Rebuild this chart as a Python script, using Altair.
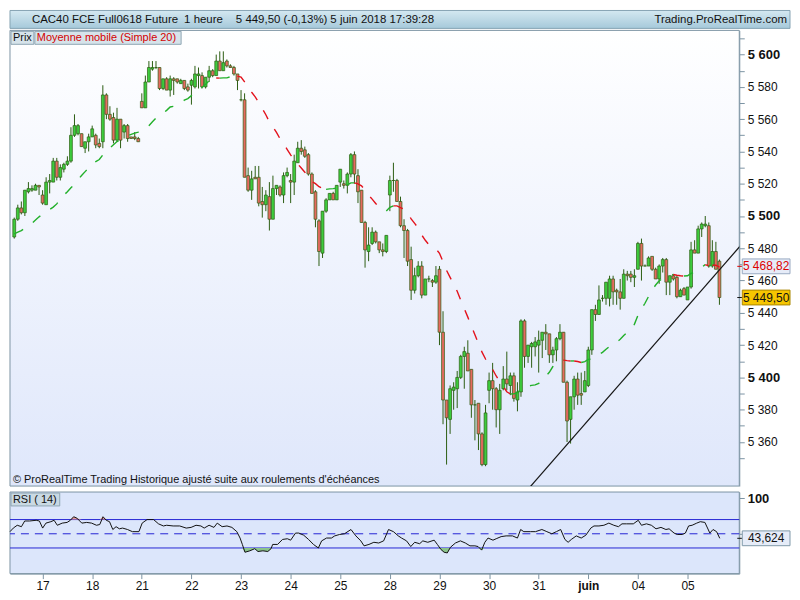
import altair as alt
import pandas as pd

# hourly candles, bar 0 = first visible hour (16 May)
opens = [
    5487, 5498, 5505, 5502, 5515, 5516, 5516, 5519, 5513, 5507,
    5521, 5521, 5534, 5524, 5529, 5532, 5534, 5550, 5551, 5551,
    5542, 5546, 5549, 5550, 5545, 5546, 5575, 5563, 5561, 5547,
    5560, 5552, 5556, 5549, 5549, 5548, 5571, 5567, 5583, 5591,
    5592, 5592, 5579, 5585, 5578, 5585, 5585, 5582, 5584, 5580,
    5581, 5580, 5587, 5587, 5580, 5586, 5590, 5587, 5596, 5590,
    5596, 5593, 5592, 5588, 5572, 5572, 5525, 5516, 5524, 5524,
    5509, 5507, 5512, 5498, 5517, 5518, 5513, 5525, 5522, 5521,
    5533, 5542, 5541, 5538, 5526, 5515, 5497, 5477, 5503, 5510,
    5514, 5510, 5521, 5520, 5519, 5526, 5538, 5525, 5516, 5496,
    5478, 5483, 5490, 5484, 5479, 5478, 5513, 5522, 5522, 5509,
    5494, 5491, 5473, 5454, 5463, 5469, 5451, 5461, 5460, 5459,
    5467, 5428, 5386, 5374, 5392, 5393, 5400, 5413, 5415, 5405,
    5383, 5384, 5365, 5346, 5392, 5398, 5393, 5380, 5393, 5399,
    5395, 5401, 5386, 5391, 5435, 5413, 5419, 5419, 5420, 5423,
    5428, 5427, 5414, 5417, 5424, 5428, 5397, 5374, 5388, 5399,
    5390, 5391, 5395, 5417, 5442, 5439, 5449, 5449, 5449, 5461,
    5454, 5453, 5449, 5464, 5464, 5462, 5467, 5483, 5469, 5469,
    5475, 5467, 5461, 5469, 5473, 5459, 5463, 5462, 5450, 5455,
    5448, 5456, 5479, 5477, 5492, 5494, 5494, 5469, 5478, 5472,
]
highs = [
    5499, 5507, 5509, 5516, 5521, 5519, 5520, 5519, 5516, 5524,
    5526, 5536, 5536, 5532, 5533, 5537, 5555, 5563, 5557, 5551,
    5546, 5551, 5556, 5551, 5548, 5581, 5576, 5568, 5564, 5567,
    5560, 5557, 5557, 5549, 5552, 5549, 5576, 5587, 5596, 5596,
    5596, 5592, 5585, 5586, 5587, 5586, 5585, 5585, 5584, 5582,
    5585, 5593, 5592, 5589, 5586, 5593, 5591, 5600, 5602, 5602,
    5597, 5594, 5593, 5588, 5578, 5576, 5530, 5528, 5531, 5531,
    5518, 5516, 5521, 5525, 5519, 5519, 5527, 5530, 5526, 5538,
    5546, 5547, 5543, 5539, 5527, 5516, 5498, 5503, 5511, 5514,
    5515, 5519, 5529, 5522, 5527, 5539, 5540, 5529, 5516, 5497,
    5493, 5493, 5491, 5484, 5483, 5488, 5525, 5533, 5523, 5512,
    5498, 5492, 5481, 5468, 5472, 5472, 5461, 5463, 5461, 5469,
    5469, 5441, 5386, 5395, 5397, 5404, 5414, 5419, 5423, 5405,
    5386, 5384, 5366, 5383, 5403, 5409, 5394, 5396, 5407, 5416,
    5403, 5403, 5397, 5436, 5436, 5420, 5422, 5425, 5429, 5428,
    5433, 5427, 5419, 5425, 5433, 5428, 5398, 5388, 5401, 5403,
    5403, 5404, 5419, 5442, 5445, 5457, 5451, 5459, 5463, 5463,
    5455, 5461, 5467, 5466, 5466, 5467, 5484, 5486, 5470, 5475,
    5475, 5468, 5470, 5474, 5474, 5463, 5464, 5463, 5455, 5456,
    5456, 5484, 5485, 5494, 5496, 5500, 5496, 5485, 5484, 5473,
]
lows = [
    5486, 5497, 5501, 5500, 5514, 5515, 5516, 5513, 5507, 5507,
    5514, 5521, 5522, 5522, 5527, 5531, 5533, 5549, 5550, 5543,
    5539, 5540, 5549, 5542, 5542, 5542, 5560, 5559, 5545, 5546,
    5542, 5548, 5546, 5548, 5547, 5546, 5567, 5567, 5583, 5590,
    5591, 5578, 5578, 5578, 5574, 5575, 5582, 5582, 5578, 5577,
    5569, 5579, 5579, 5579, 5579, 5583, 5586, 5587, 5590, 5590,
    5592, 5592, 5587, 5578, 5571, 5524, 5515, 5510, 5523, 5506,
    5499, 5503, 5491, 5498, 5513, 5512, 5508, 5524, 5508, 5513,
    5533, 5538, 5536, 5525, 5514, 5493, 5469, 5474, 5502, 5510,
    5510, 5510, 5518, 5517, 5514, 5524, 5520, 5508, 5496, 5468,
    5472, 5482, 5483, 5477, 5475, 5477, 5503, 5515, 5509, 5493,
    5474, 5469, 5448, 5452, 5462, 5449, 5451, 5459, 5456, 5458,
    5420, 5371, 5346, 5365, 5380, 5381, 5399, 5393, 5404, 5375,
    5361, 5355, 5345, 5345, 5384, 5380, 5369, 5365, 5392, 5392,
    5389, 5385, 5379, 5388, 5406, 5409, 5406, 5413, 5403, 5412,
    5417, 5409, 5409, 5410, 5423, 5397, 5360, 5359, 5380, 5383,
    5383, 5391, 5394, 5414, 5435, 5439, 5447, 5445, 5444, 5445,
    5445, 5442, 5449, 5460, 5459, 5456, 5467, 5460, 5469, 5469,
    5466, 5461, 5458, 5465, 5451, 5451, 5460, 5449, 5450, 5451,
    5448, 5455, 5477, 5477, 5487, 5493, 5468, 5468, 5467, 5445,
]
closes = [
    5498, 5505, 5502, 5516, 5517, 5517, 5519, 5518, 5508, 5521,
    5522, 5534, 5524, 5530, 5532, 5534, 5550, 5556, 5556, 5543,
    5546, 5549, 5554, 5544, 5543, 5575, 5563, 5560, 5547, 5560,
    5547, 5556, 5548, 5548, 5548, 5546, 5567, 5583, 5592, 5592,
    5592, 5579, 5585, 5578, 5585, 5584, 5583, 5584, 5579, 5578,
    5584, 5588, 5588, 5580, 5586, 5590, 5587, 5596, 5590, 5595,
    5593, 5592, 5588, 5584, 5572, 5524, 5516, 5523, 5523, 5508,
    5507, 5513, 5498, 5517, 5519, 5513, 5525, 5527, 5521, 5534,
    5542, 5540, 5537, 5526, 5514, 5498, 5478, 5503, 5510, 5514,
    5510, 5519, 5529, 5519, 5526, 5538, 5526, 5515, 5496, 5479,
    5482, 5490, 5484, 5479, 5478, 5488, 5522, 5522, 5509, 5494,
    5491, 5472, 5454, 5463, 5469, 5451, 5461, 5461, 5459, 5463,
    5428, 5386, 5375, 5393, 5394, 5400, 5413, 5416, 5404, 5383,
    5383, 5365, 5346, 5378, 5398, 5393, 5380, 5392, 5399, 5396,
    5401, 5387, 5391, 5435, 5413, 5420, 5421, 5422, 5423, 5428,
    5427, 5414, 5417, 5424, 5428, 5397, 5373, 5388, 5399, 5389,
    5389, 5398, 5417, 5442, 5439, 5448, 5449, 5459, 5461, 5453,
    5453, 5449, 5464, 5463, 5462, 5463, 5483, 5469, 5469, 5474,
    5467, 5461, 5469, 5473, 5459, 5463, 5461, 5450, 5454, 5451,
    5456, 5479, 5477, 5492, 5495, 5495, 5469, 5478, 5467, 5449.5,
]
# SMA(20) for the first bars needs hours before the window
ma_early = [5489, 5490, 5491, 5492.5, 5494, 5495.5, 5497.5, 5499.5, 5501, 5502.5,
            5504, 5505.5, 5507.5, 5510.5, 5513, 5515, 5517.5, 5519.5, 5522.5]

# RSI(14) line (position in bars, value)
rsi_pos = [
    -1.19, -0.27, 0.84, 2.03, 2.95, 4.33, 6.18, 7.1, 8.02, 8.94,
    10.32, 11.24, 12.16, 13.54, 14.92, 15.84, 16.77, 17.69, 19.07, 20.45,
    21.83, 23.21, 24.13, 25.05, 25.97, 26.89, 27.82, 28.74, 29.66, 30.58,
    31.96, 33.34, 35.18, 36.1, 37.48, 39.32, 40.71, 42.09, 43.01, 44.85,
    46.69, 48.53, 49.91, 51.3, 52.68, 53.6, 54.98, 56.36, 57.28, 58.66,
    60.04, 61.42, 62.81, 63.73, 64.37, 65.11, 66.49, 67.87, 68.79, 70.17,
    71.55, 72.47, 72.93, 74.31, 75.7, 77.08, 78.0, 79.38, 80.3, 81.68,
    83.06, 84.44, 85.82, 86.75, 88.13, 89.51, 90.43, 91.81, 93.19, 95.03,
    96.41, 97.8, 98.72, 100.1, 101.48, 102.86, 104.24, 105.62, 107.0, 108.38,
    109.3, 110.7, 111.9, 113.0, 114.4, 115.3, 116.7, 118.5, 119.4, 120.4,
    121.3, 122.2, 123.1, 124.5, 125.9, 127.3, 128.6, 130.0, 130.9, 131.9,
    132.8, 133.7, 135.1, 136.0, 137.4, 138.8, 140.6, 142.0, 142.9, 143.8,
    145.7, 147.1, 148.9, 150.3, 151.7, 153.0, 154.2, 155.4, 156.3, 157.2,
    158.6, 160.0, 161.3, 162.7, 163.6, 165.0, 166.4, 167.8, 169.2, 170.5,
    171.5, 172.8, 174.7, 176.1, 177.0, 178.4, 179.8, 181.1, 182.5, 183.9,
    184.8, 186.2, 187.1, 188.5, 189.4, 190.3, 191.3, 192.6, 193.6, 194.9,
    196.3, 197.2, 198.2, 199.1,
]
rsi_val = [
    53, 58, 62, 60, 68, 68, 69, 68, 58, 65,
    67, 69, 62, 65, 66, 69, 74, 72, 65, 66,
    65, 62, 63, 74, 69, 67, 56, 60, 57, 58,
    56, 53, 53, 65, 70, 70, 64, 61, 62, 61,
    61, 58, 59, 62, 61, 58, 62, 59, 65, 60,
    61, 59, 53, 44, 35, 24, 26, 29, 25, 26,
    25, 29, 35, 35, 42, 43, 41, 51, 51, 48,
    42, 35, 30, 40, 44, 44, 47, 49, 50, 56,
    47, 40, 33, 35, 38, 37, 40, 56, 53, 47,
    44, 40, 32, 38, 36, 40, 38, 41, 35, 28,
    24, 23, 31, 37, 40, 37, 33, 33, 32, 27,
    38, 44, 41, 43, 46, 47, 47, 44, 56, 53,
    53, 53, 56, 53, 50, 53, 56, 42, 38, 42,
    47, 44, 48, 58, 61, 61, 62, 65, 62, 60,
    64, 64, 64, 69, 62, 64, 62, 57, 59, 56,
    57, 51, 49, 49, 51, 61, 62, 65, 67, 66,
    51, 56, 53, 43.6,
]

trend_pos = [145.5, 205.1]
trend_price = [5332, 5482]

day_ticks = [8, 22, 36, 50, 64, 78, 92, 106, 120, 134, 148, 162, 176, 190]
day_labels = ["17", "18", "21", "22", "23", "24", "25", "28", "29", "30", "31", "juin", "04", "05"]

last_ma, last_ma_label = 5468.82, "5 468,82"
last_close, last_close_label = 5449.50, "5 449,50"
last_rsi, last_rsi_label = 43.624, "43,624"

header_texts = ["CAC40 FCE Full0618 Future", "1 heure", "5 449,50 (-0,13%)", "5 juin 2018 17:39:28"]
site_text = "Trading.ProRealTime.com"
footer_text = "\u00a9 ProRealTime Trading  Historique ajusté suite aux roulements d'échéances"

W, HP, HR, TOTAL_W = 733, 458, 82, 784
FONT = "Liberation Sans"
BORDER = "#7c93a3"
WICK = "#2b5d12"
BOX_PATH = "M-1,-0.31L1,-0.31L1,0.31L-1,0.31Z"
ONE = pd.DataFrame({"k": [0]})

x_scale = alt.Scale(domain=[-1.2, 204.6], nice=False, zero=False)
p_scale = alt.Scale(domain=[5332.7, 5615], nice=False, zero=False)
r_scale = alt.Scale(domain=[-6.1, 108.8], nice=False, zero=False)

# ---- data frames
n = len(closes)
bars = pd.DataFrame({"i": range(n), "open": opens, "high": highs, "low": lows, "close": closes})
bars["dir"] = ["up" if c >= o else "down" for o, c in zip(opens, closes)]

ma = pd.Series(closes).rolling(20).mean().tolist()
ma[:len(ma_early)] = ma_early
ma_rows, run, prev = [], 0, None
for k in range(n - 1):
    d = "up" if ma[k + 1] >= ma[k] else "down"
    if d != prev:
        run += 1
        ma_rows.append({"run": run, "i": k, "ma": ma[k], "dir": d})
    ma_rows.append({"run": run, "i": k + 1, "ma": ma[k + 1], "dir": d})
    prev = d
ma_df = pd.DataFrame(ma_rows)

rsi_df = pd.DataFrame({"pos": rsi_pos, "rsi": rsi_val})
trend_df = pd.DataFrame({"pos": trend_pos, "price": trend_price})

# ---- axes (the same object on every layer that shares a scale, so they merge)
price_axis = alt.Axis(
    orient="right", values=list(range(5350, 5611, 10)), title=None, grid=False,
    labelExpr="datum.value % 20 == 0 ? replace(format(datum.value, ','), ',', ' ') : ''",
    labelFontWeight={"condition": {"test": "datum.value % 100 == 0", "value": "bold"}, "value": "normal"},
    labelFontSize={"condition": {"test": "datum.value % 100 == 0", "value": 13}, "value": 12},
    labelOverlap=False, tickSize=5, tickColor=BORDER, domainColor=BORDER, labelPadding=3,
)
ticks_js = "[" + ",".join(str(t) for t in day_ticks) + "]"
labels_js = "[" + ",".join("'" + s + "'" for s in day_labels) + "]"
time_axis = alt.Axis(
    values=day_ticks, title=None, grid=False,
    labelExpr=labels_js + "[indexof(" + ticks_js + ", datum.value)]",
    labelFontWeight={"condition": {"test": "datum.value == 162", "value": "bold"}, "value": "normal"},
    labelFontSize=12, labelOverlap=False, tickSize=5, tickColor=BORDER, domainColor=BORDER, labelPadding=2,
)
rsi_axis = alt.Axis(
    orient="right", values=[50, 100], title=None, grid=False,
    labelExpr="datum.value == 100 ? '100' : ''",
    labelFontWeight="bold", labelFontSize=13,
    labelOverlap=False, tickSize=5, tickColor=BORDER, domainColor=BORDER, labelPadding=3,
)


def label(text, x, y, color="#111111", size=11.5, align="left"):
    return alt.Chart(pd.DataFrame({"t": [text]})).mark_text(
        align=align, baseline="middle", font=FONT, fontSize=size, color=color
    ).encode(x=alt.value(x), y=alt.value(y), text="t:N")


def box(x0, x1, y0, y1, fill, stroke):
    return alt.Chart(ONE).mark_rect(fill=fill, stroke=stroke, strokeWidth=1).encode(
        x=alt.value(x0), x2=alt.value(x1), y=alt.value(y0), y2=alt.value(y1))


def value_marker(value, text, scale, axis, fill, stroke, text_color):
    base = alt.Chart(pd.DataFrame({"v": [value], "t": [text]}))
    y = alt.Y("v:Q", scale=scale, axis=axis)
    tick = base.mark_rule(color=text_color, strokeWidth=1).encode(
        x=alt.value(W - 2), x2=alt.value(W + 3), y=y)
    badge = base.mark_point(shape=BOX_PATH, size=2304, filled=True, fill=fill, stroke=stroke,
                            strokeWidth=1, opacity=1).encode(x=alt.value(W + 27), y=y)
    txt = base.mark_text(align="center", baseline="middle", font=FONT, fontSize=12,
                         color=text_color).encode(x=alt.value(W + 27), y=y, text="t:N")
    return [tick, badge, txt]


# ---- header bar
header_bg = alt.Chart(ONE).mark_rect(
    fill={"gradient": "linear", "x1": 0, "y1": 0, "x2": 0, "y2": 1,
          "stops": [{"offset": 0, "color": "#d4e8f1"}, {"offset": 1, "color": "#a6c9da"}]},
    stroke="#86a3b3", strokeWidth=1,
).encode(x=alt.value(0), x2=alt.value(TOTAL_W), y=alt.value(0), y2=alt.value(18))
header = alt.layer(
    header_bg,
    label(header_texts[0], 22, 10),
    label(header_texts[1], 175, 10),
    label(header_texts[2], 227, 10),
    label(header_texts[3], 322, 10),
    label(site_text, TOTAL_W - 3, 10, align="right"),
).properties(width=TOTAL_W, height=18)

# ---- price panel
price_bg = alt.Chart(ONE).mark_rect(
    fill={"gradient": "linear", "x1": 0, "y1": 0, "x2": 0, "y2": 1,
          "stops": [{"offset": 0, "color": "#ffffff"}, {"offset": 1, "color": "#dfe7fb"}]},
    stroke=BORDER, strokeWidth=1,
).encode(x=alt.value(0), x2=alt.value(W), y=alt.value(0), y2=alt.value(HP))

wicks = alt.Chart(bars).mark_rule(color=WICK, strokeWidth=1).encode(
    x=alt.X("i:Q", scale=x_scale, axis=None),
    y=alt.Y("low:Q", scale=p_scale, axis=price_axis),
    y2="high:Q",
)
bodies = alt.Chart(bars).transform_calculate(
    x0="datum.i - 0.40", x1="datum.i + 0.40"
).mark_rect(stroke=WICK, strokeWidth=0.7).encode(
    x=alt.X("x0:Q", scale=x_scale, axis=None),
    x2="x1:Q",
    y=alt.Y("open:Q", scale=p_scale, axis=price_axis),
    y2="close:Q",
    fill=alt.Fill("dir:N", scale=alt.Scale(domain=["up", "down"], range=["#3dcc3d", "#e66a60"]), legend=None),
)
ma_line = alt.Chart(ma_df).mark_line(strokeWidth=1.4, strokeDash=[10, 12]).encode(
    x=alt.X("i:Q", scale=x_scale, axis=None),
    y=alt.Y("ma:Q", scale=p_scale, axis=price_axis),
    detail="run:N",
    order="i:Q",
    stroke=alt.Stroke("dir:N", scale=alt.Scale(domain=["up", "down"], range=["#22b02a", "#e3121c"]), legend=None),
)
trend = alt.Chart(trend_df).mark_line(color="#151515", strokeWidth=1.2, clip=True).encode(
    x=alt.X("pos:Q", scale=x_scale, axis=None),
    y=alt.Y("price:Q", scale=p_scale, axis=price_axis),
)

price = alt.layer(
    price_bg, wicks, bodies, ma_line, trend,
    box(1, 24, 1, 14, "#d6e3ea", "#8ea5b3"),
    box(25, 172, 1, 14, "#d6e3ea", "#8ea5b3"),
    label("Prix", 3, 8, size=11),
    label("Moyenne mobile (Simple 20)", 27, 8, color="#d40000", size=11),
    label(footer_text, 3, HP - 6, size=11),
    *value_marker(last_ma, last_ma_label, p_scale, price_axis, "#e6ecf8", "#98a9c2", "#dd0000"),
    *value_marker(last_close, last_close_label, p_scale, price_axis, "#f6c500", "#a88600", "#111111"),
).properties(width=W, height=HP)

# ---- RSI panel
rsi_bg = alt.Chart(ONE).mark_rect(fill="#dce6fb", stroke=BORDER, strokeWidth=1).encode(
    x=alt.value(0), x2=alt.value(W), y=alt.value(0), y2=alt.value(HR))
levels = alt.Chart(pd.DataFrame({"lvl": [70, 30]})).mark_rule(color="#2424d4", strokeWidth=1).encode(
    y=alt.Y("lvl:Q", scale=r_scale, axis=rsi_axis))
mid = alt.Chart(pd.DataFrame({"lvl": [50]})).mark_rule(color="#2424d4", strokeWidth=1, strokeDash=[8, 6]).encode(
    y=alt.Y("lvl:Q", scale=r_scale, axis=rsi_axis))
rsi_base = alt.Chart(rsi_df).transform_calculate(
    hi="max(datum.rsi, 70)", lo="min(datum.rsi, 30)", b70="70", b30="30")
over = rsi_base.mark_area(color="#e39a9a").encode(
    x=alt.X("pos:Q", scale=x_scale, axis=time_axis),
    y=alt.Y("hi:Q", scale=r_scale, axis=rsi_axis), y2="b70:Q")
under = rsi_base.mark_area(color="#8cc48c").encode(
    x=alt.X("pos:Q", scale=x_scale, axis=time_axis),
    y=alt.Y("lo:Q", scale=r_scale, axis=rsi_axis), y2="b30:Q")
rsi_line = alt.Chart(rsi_df).mark_line(color="#111111", strokeWidth=1).encode(
    x=alt.X("pos:Q", scale=x_scale, axis=time_axis),
    y=alt.Y("rsi:Q", scale=r_scale, axis=rsi_axis),
)

rsi = alt.layer(
    rsi_bg, levels, mid, over, under, rsi_line,
    box(1, 50, 1, 14, "#c9d9e3", "#8ea5b3"),
    label("RSI ( 14)", 3, 8, size=11),
    *value_marker(last_rsi, last_rsi_label, r_scale, rsi_axis, "#e6ecf8", "#7f98a8", "#111111"),
).properties(width=W, height=HR)

chart = alt.vconcat(
    header,
    alt.vconcat(price, rsi, spacing=4),
    spacing=0,
).properties(padding=0).configure_view(strokeWidth=0).configure_axis(
    labelFont=FONT, labelColor="#111111"
)

chart.save("out.html", embed_options={"renderer": "svg", "actions": False})
